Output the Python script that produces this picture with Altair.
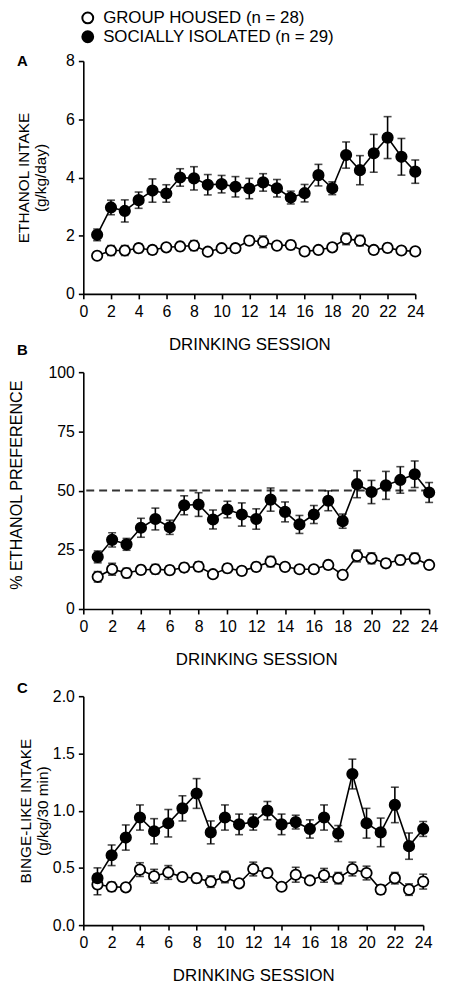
import altair as alt
import pandas as pd

FONT = "Liberation Sans"
sessions = list(range(1, 25))
groups = ["GROUP HOUSED (n = 28)", "SOCIALLY ISOLATED (n = 29)"]

# Panel A: ethanol intake (g/kg/day)
a_gh = [1.31, 1.49, 1.49, 1.57, 1.51, 1.60, 1.63, 1.66, 1.45, 1.57, 1.57, 1.83,
        1.79, 1.66, 1.68, 1.46, 1.51, 1.60, 1.89, 1.83, 1.51, 1.58, 1.49, 1.46]
a_gh_err = [0.12, 0.17, 0.17, 0.15, 0.14, 0.12, 0.14, 0.17, 0.10, 0.12, 0.14, 0.15,
            0.20, 0.13, 0.15, 0.08, 0.10, 0.13, 0.20, 0.18, 0.13, 0.15, 0.10, 0.08]
a_si = [2.03, 2.97, 2.85, 3.22, 3.55, 3.45, 4.00, 3.97, 3.75, 3.77, 3.68, 3.62,
        3.83, 3.63, 3.31, 3.46, 4.08, 3.63, 4.77, 4.25, 4.83, 5.37, 4.71, 4.20]
a_si_err = [0.20, 0.25, 0.38, 0.28, 0.40, 0.30, 0.30, 0.40, 0.35, 0.30, 0.35, 0.35,
            0.30, 0.30, 0.22, 0.30, 0.37, 0.22, 0.45, 0.50, 0.65, 0.72, 0.63, 0.40]

# Panel B: % ethanol preference
b_gh = [13.6, 16.8, 15.2, 16.5, 16.8, 16.4, 17.5, 17.9, 14.7, 17.2, 16.1, 17.8,
        20.0, 17.8, 16.8, 16.8, 18.6, 14.4, 22.4, 21.4, 19.3, 20.7, 21.4, 18.6]
b_gh_err = [2.2, 2.5, 2.0, 1.8, 2.0, 1.8, 1.8, 2.0, 1.2, 1.8, 1.6, 1.8,
            2.2, 1.5, 1.5, 1.5, 1.8, 1.2, 2.5, 2.3, 1.8, 2.0, 2.2, 1.6]
b_si = [22.0, 29.2, 27.3, 34.3, 38.0, 34.5, 43.8, 44.1, 37.8, 42.0, 39.9, 38.0,
        46.2, 41.0, 35.7, 39.9, 45.7, 37.1, 52.7, 49.4, 52.2, 54.5, 56.9, 49.2]
b_si_err = [2.5, 3.0, 2.5, 4.0, 4.6, 3.0, 4.0, 5.0, 4.0, 3.5, 4.9, 4.3,
            4.9, 4.2, 3.8, 3.8, 4.2, 3.0, 5.7, 4.9, 5.9, 5.6, 5.6, 4.2]

# Panel C: binge-like intake (g/kg/30 min)
c_gh = [0.355, 0.335, 0.33, 0.485, 0.427, 0.46, 0.42, 0.41, 0.38, 0.42, 0.365, 0.49,
        0.455, 0.335, 0.44, 0.39, 0.435, 0.41, 0.49, 0.455, 0.31, 0.41, 0.31, 0.38]
c_gh_err = [0.09, 0.04, 0.03, 0.06, 0.06, 0.06, 0.03, 0.04, 0.05, 0.05, 0.03, 0.06,
            0.04, 0.03, 0.065, 0.03, 0.06, 0.05, 0.06, 0.06, 0.04, 0.05, 0.05, 0.065]
c_si = [0.41, 0.61, 0.765, 0.94, 0.82, 0.89, 1.02, 1.15, 0.81, 0.94, 0.88, 0.90,
        1.00, 0.88, 0.90, 0.84, 0.94, 0.80, 1.32, 0.89, 0.81, 1.05, 0.69, 0.84]
c_si_err = [0.09, 0.09, 0.11, 0.11, 0.11, 0.12, 0.11, 0.13, 0.10, 0.11, 0.09, 0.07,
            0.08, 0.09, 0.06, 0.08, 0.11, 0.07, 0.13, 0.13, 0.125, 0.155, 0.115, 0.065]

x_ticks = list(range(0, 25, 2))


def make_df(gh, gh_err, si, si_err):
    rows = []
    for g, m, e in ((groups[0], gh, gh_err), (groups[1], si, si_err)):
        for s, v, er in zip(sessions, m, e):
            rows.append({"session": s, "group": g, "mean": v, "lo": v - er, "hi": v + er})
    return pd.DataFrame(rows)


def panel(df, ydom, yvals, fmt, ytitle, w, h, letter, letter_y, title_x, title_dy=0,
          title_size=15.5, legend=None, ref=None, top_gap=0):
    xs = alt.Scale(domain=[0, 24], nice=False)
    # top_gap leaves an empty strip above the y range (shifts the panel down)
    if top_gap:
        ys = alt.Scale(domain=ydom, nice=False, range=[h, top_gap])
    else:
        ys = alt.Scale(domain=ydom, nice=False)
    xaxis = alt.Axis(values=x_ticks, title="DRINKING SESSION", labelFontSize=16,
                     titleFontSize=17, labelFont=FONT, titleFont=FONT,
                     titleFontWeight="normal", labelPadding=5, titlePadding=17,
                     tickSize=5, labelFlush=False)
    yaxis = alt.Axis(values=yvals, format=fmt, title=ytitle, labelFontSize=16,
                     titleFontSize=title_size, labelFont=FONT, titleFont=FONT,
                     titleFontWeight="normal", labelPadding=4, tickSize=5,
                     titleX=title_x, titleY=(h + top_gap) / 2 + title_dy, titleAngle=-90,
                     titleBaseline="middle", titleAlign="center", titleLineHeight=17)
    X = alt.X("session:Q", scale=xs, axis=xaxis)
    base = alt.Chart(df)
    line = base.mark_line(color="black", strokeWidth=1.6).encode(
        x=X, y=alt.Y("mean:Q", scale=ys, axis=yaxis), detail="group:N")
    rule = base.mark_rule(color="black", strokeWidth=1.6).encode(
        x=X, y=alt.Y("lo:Q", scale=ys, axis=yaxis), y2="hi:Q")
    tlo = base.mark_tick(color="black", orient="horizontal", size=8, thickness=1.6).encode(
        x=X, y=alt.Y("lo:Q", scale=ys, axis=yaxis))
    thi = base.mark_tick(color="black", orient="horizontal", size=8, thickness=1.6).encode(
        x=X, y=alt.Y("hi:Q", scale=ys, axis=yaxis))
    pts = base.mark_point(filled=True, size=110, stroke="black", strokeWidth=1.8,
                          opacity=1).encode(
        x=X, y=alt.Y("mean:Q", scale=ys, axis=yaxis),
        fill=alt.Fill("group:N", scale=alt.Scale(domain=groups, range=["white", "black"]),
                      legend=legend))
    lab = alt.Chart(pd.DataFrame({"t": [letter]})).mark_text(
        align="left", baseline="middle", fontSize=15, fontWeight="bold", font=FONT,
        color="black").encode(text="t:N", x=alt.value(-67), y=alt.value(letter_y + top_gap))
    layers = [line]
    if ref is not None:
        layers.append(alt.Chart(pd.DataFrame({"r": [ref]})).mark_rule(
            color="#333333", strokeWidth=2, strokeDash=[8, 5]).encode(
            y=alt.Y("r:Q", scale=ys, axis=yaxis)))
    layers += [rule, tlo, thi, pts, lab]
    return alt.layer(*layers).properties(width=w, height=h)


leg = alt.Legend(orient="none", legendX=-4, legendY=-52, title=None, padding=0,
                 labelFont=FONT, labelFontSize=17, labelColor="black", labelLimit=0,
                 symbolType="circle", symbolSize=120, symbolStrokeColor="black",
                 symbolStrokeWidth=2, symbolOpacity=1, labelOffset=7, rowPadding=0)

pA = panel(make_df(a_gh, a_gh_err, a_si, a_si_err), [0, 8], [0, 2, 4, 6, 8], "d",
           ["ETHANOL INTAKE", "(g/kg/day)"], 335, 235, "A", 0, -60, legend=leg)
pB = panel(make_df(b_gh, b_gh_err, b_si, b_si_err), [0, 100], [0, 25, 50, 75, 100], "d",
           "% ETHANOL PREFERENCE", 349, 239, "B", -22, -67, title_dy=-6, title_size=16.3,
           ref=50)
pC = panel(make_df(c_gh, c_gh_err, c_si, c_si_err), [0, 2], [0, 0.5, 1, 1.5, 2], ".1f",
           ["BINGE-LIKE INTAKE", "(g/kg/30 min)"], 343, 240, "C", -8, -58, top_gap=9)

chart = alt.vconcat(pA, pB, pC, spacing=79, bounds="flush").resolve_scale(
    fill="independent").properties(
    padding={"left": 0, "top": -3, "right": 5, "bottom": 5}
).configure_view(stroke=None).configure_axis(
    grid=False, domainColor="black", domainWidth=1.6, tickColor="black", tickWidth=1.6,
    labelColor="black", titleColor="black")

chart.save("out.html", embed_options={"renderer": "svg", "actions": False})
